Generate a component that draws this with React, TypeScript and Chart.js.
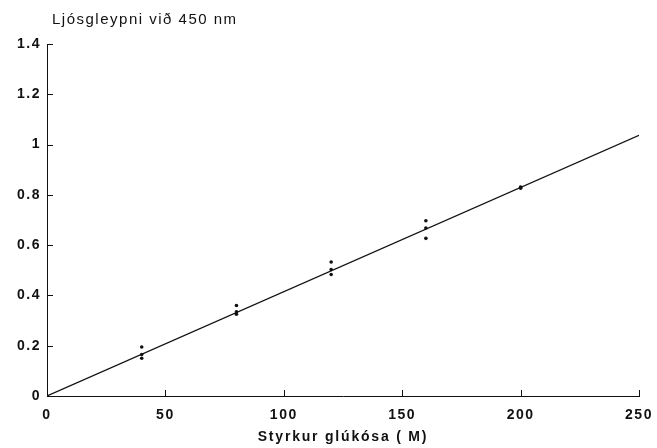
import React, { useEffect, useRef } from "react";
import { Chart, registerables } from "chart.js";

Chart.register(...registerables);

const yAxisTitle = "Ljósgleypni við 450 nm";
const xAxisTitle = "Styrkur glúkósa ( M)";
const xTicks = [0, 50, 100, 150, 200, 250];
const yTicks = [0, 0.2, 0.4, 0.6, 0.8, 1, 1.2, 1.4];

const sampleX = [0, 40, 40, 40, 80, 80, 80, 120, 120, 120, 160, 160, 160, 200, 200, 200];
const sampleY = [0, 0.195, 0.165, 0.15, 0.36, 0.335, 0.325, 0.533, 0.503, 0.483, 0.697, 0.668, 0.627, 0.831, 0.829, 0.826];

const fitX = [0, 250];
const fitY = [0, 1.037];

const FONT = "'Liberation Sans', Arial, sans-serif";

const spacing = {
  id: "spacing",
  beforeDraw(chart: any) {
    (chart.ctx as any).letterSpacing = "1.5px";
  },
};

const overlay = {
  id: "overlay",
  afterDraw(chart: any) {
    const ctx = chart.ctx;
    const xs = chart.scales.x;
    const ys = chart.scales.y;
    const area = chart.chartArea;
    ctx.save();
    ctx.strokeStyle = "#111";
    ctx.lineWidth = 1;
    ctx.beginPath();
    for (const v of xTicks) {
      const px = Math.round(xs.getPixelForValue(v)) + 0.5;
      ctx.moveTo(px, area.bottom);
      ctx.lineTo(px, area.bottom - 6);
    }
    for (const v of yTicks) {
      const py = Math.round(ys.getPixelForValue(v)) + 0.5;
      ctx.moveTo(area.left, py);
      ctx.lineTo(area.left + 6, py);
    }
    ctx.stroke();
    ctx.fillStyle = "#111";
    ctx.font = `15px ${FONT}`;
    (ctx as any).letterSpacing = "1.5px";
    ctx.textBaseline = "middle";
    ctx.textAlign = "left";
    ctx.fillText(yAxisTitle, area.left + 5, 20);
    ctx.font = `bold 14px ${FONT}`;
    (ctx as any).letterSpacing = "1.8px";
    ctx.textAlign = "center";
    ctx.fillText(xAxisTitle, (area.left + area.right) / 2, 437);
    ctx.restore();
  },
};

export default function App() {
  const ref = useRef<HTMLCanvasElement>(null);
  useEffect(() => {
    if (!ref.current) return;
    const chart = new Chart(ref.current, {
      type: "scatter",
      data: {
        datasets: [
          {
            type: "line",
            data: fitX.map((x, i) => ({ x, y: fitY[i] })),
            borderColor: "#111",
            borderWidth: 1.2,
            pointRadius: 0,
            fill: false,
          },
          {
            type: "scatter",
            data: sampleX.map((x, i) => ({ x, y: sampleY[i] })),
            backgroundColor: "#111",
            borderColor: "#111",
            pointRadius: 1.8,
            borderWidth: 0,
          },
        ],
      },
      plugins: [spacing, overlay],
      options: {
        animation: false,
        responsive: true,
        maintainAspectRatio: false,
        layout: { padding: { left: 7, top: 44, right: 18, bottom: 0 } },
        plugins: { legend: { display: false }, tooltip: { enabled: false } },
        scales: {
          x: {
            type: "linear",
            min: 0,
            max: 250,
            afterFit: (s: any) => {
              s.height = 52;
              s.paddingLeft = 0;
              s.paddingRight = 0;
            },
            afterBuildTicks: (s: any) => {
              s.ticks = xTicks.map((v) => ({ value: v }));
            },
            ticks: {
              color: "#111",
              font: { family: FONT, size: 14, weight: "bold" },
              padding: 11,
              maxRotation: 0,
              autoSkip: false,
            },
            grid: { display: true, drawOnChartArea: false, drawTicks: false, tickLength: 0 },
            border: { display: true, color: "#111", width: 1 },
          },
          y: {
            type: "linear",
            min: 0,
            max: 1.4,
            afterFit: (s: any) => {
              s.width = 40;
              s.paddingTop = 0;
              s.paddingBottom = 0;
            },
            afterBuildTicks: (s: any) => {
              s.ticks = yTicks.map((v) => ({ value: v }));
            },
            ticks: {
              color: "#111",
              font: { family: FONT, size: 14, weight: "bold" },
              padding: 6,
              autoSkip: false,
              callback: (v: any) => String(Math.round(Number(v) * 10) / 10),
            },
            grid: { display: true, drawOnChartArea: false, drawTicks: false, tickLength: 0 },
            border: { display: true, color: "#111", width: 1 },
          },
        },
      },
    });
    return () => chart.destroy();
  }, []);
  return (
    <div style={{ position: "absolute", left: 0, top: 0, width: 657, height: 448, background: "#fff" }}>
      <canvas ref={ref} />
    </div>
  );
}
